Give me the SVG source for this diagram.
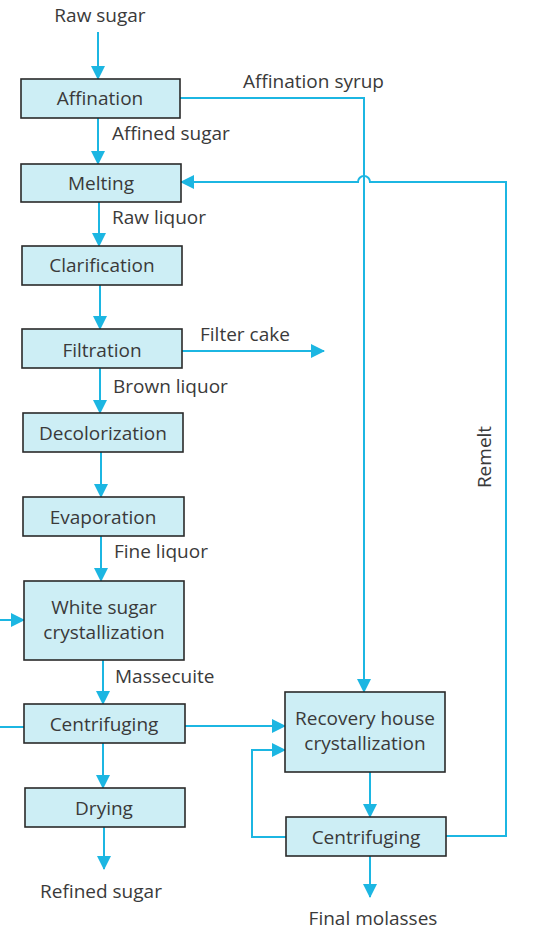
<svg xmlns="http://www.w3.org/2000/svg" width="545" height="935" viewBox="0 0 545 935">
<defs>
<marker id="ah" markerUnits="userSpaceOnUse" markerWidth="14" markerHeight="14" viewBox="0 0 14 14" refX="13" refY="7" orient="auto">
<path d="M0,0 L14,7 L0,14 Z" fill="#1cb6e2"/>
</marker>
</defs>
<style>
.box{fill:#cdeef5;stroke:#2a2a2a;stroke-width:1.6}
.t{font-family:"Open Sans","Noto Sans",sans-serif;font-size:19px;fill:#3a3a3a}
.c{text-anchor:middle}
.ln{fill:none;stroke:#1cb6e2;stroke-width:2}
.ar{marker-end:url(#ah)}
</style>
<rect width="545" height="935" fill="#ffffff"/>
<g id="connectors">
<line class="ln ar" x1="98" y1="32" x2="98" y2="79"/>
<line class="ln ar" x1="98" y1="118" x2="98" y2="164"/>
<line class="ln ar" x1="99" y1="202" x2="99" y2="246"/>
<line class="ln ar" x1="100" y1="285" x2="100" y2="329"/>
<line class="ln ar" x1="100" y1="368" x2="100" y2="413"/>
<line class="ln ar" x1="101" y1="452" x2="101" y2="497"/>
<line class="ln ar" x1="101" y1="536" x2="101" y2="581"/>
<line class="ln ar" x1="103" y1="660" x2="103" y2="704"/>
<line class="ln ar" x1="103" y1="743" x2="103" y2="788"/>
<line class="ln ar" x1="104" y1="827" x2="104" y2="869"/>
<path class="ln ar" d="M180,98 H364 V692"/>
<path class="ln ar" d="M446,836 H506 V182 H370 A6,6 0 0 0 358,182 H181"/>
<line class="ln ar" x1="182" y1="351" x2="324" y2="351"/>
<line class="ln ar" x1="0" y1="620" x2="24" y2="620"/>
<line class="ln" x1="0" y1="727" x2="24" y2="727"/>
<line class="ln ar" x1="185" y1="726" x2="285" y2="726"/>
<path class="ln ar" d="M286,837 H252 V750 H285"/>
<line class="ln ar" x1="370" y1="772" x2="370" y2="817"/>
<line class="ln ar" x1="370" y1="856" x2="370" y2="897"/>
</g>
<g id="labels">
<text class="t c" x="100" y="22">Raw sugar</text>
<text class="t" x="112" y="140">Affined sugar</text>
<text class="t" x="112" y="224">Raw liquor</text>
<text class="t" x="200" y="341">Filter cake</text>
<text class="t" x="113" y="393">Brown liquor</text>
<text class="t" x="114" y="558">Fine liquor</text>
<text class="t" x="115" y="683">Massecuite</text>
<text class="t c" x="101" y="898">Refined sugar</text>
<text class="t" x="243" y="88">Affination syrup</text>
<text class="t c" transform="translate(491,457) rotate(-90)">Remelt</text>
<text class="t c" x="373" y="925">Final molasses</text>
</g>
<g id="affination"><rect class="box" x="21" y="79" width="159" height="39"/><text class="t c" x="100" y="105">Affination</text></g>
<g id="melting"><rect class="box" x="21" y="164" width="160" height="38"/><text class="t c" x="101" y="190">Melting</text></g>
<g id="clarification"><rect class="box" x="22" y="246" width="160" height="39"/><text class="t c" x="102" y="272">Clarification</text></g>
<g id="filtration"><rect class="box" x="22" y="329" width="160" height="39"/><text class="t c" x="102" y="357">Filtration</text></g>
<g id="decolorization"><rect class="box" x="23" y="413" width="160" height="39"/><text class="t c" x="103" y="440">Decolorization</text></g>
<g id="evaporation"><rect class="box" x="23" y="497" width="161" height="39"/><text class="t c" x="103" y="524">Evaporation</text></g>
<g id="white-sugar"><rect class="box" x="24" y="581" width="160" height="79"/><text class="t c" x="104" y="614">White sugar</text><text class="t c" x="104" y="639">crystallization</text></g>
<g id="centrifuging1"><rect class="box" x="24" y="704" width="161" height="39"/><text class="t c" x="104" y="731">Centrifuging</text></g>
<g id="drying"><rect class="box" x="25" y="788" width="160" height="39"/><text class="t c" x="104" y="815">Drying</text></g>
<g id="recovery"><rect class="box" x="285" y="692" width="160" height="80"/><text class="t c" x="365" y="725">Recovery house</text><text class="t c" x="365" y="750">crystallization</text></g>
<g id="centrifuging2"><rect class="box" x="286" y="817" width="160" height="39"/><text class="t c" x="366" y="844">Centrifuging</text></g>
</svg>
